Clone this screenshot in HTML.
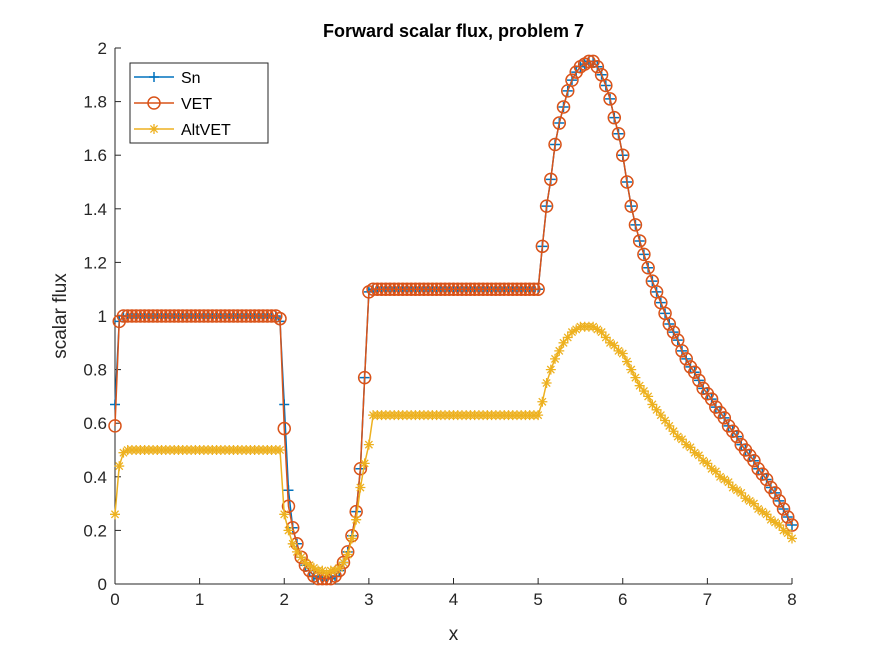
<!DOCTYPE html>
<html><head><meta charset="utf-8"><style>
body{margin:0;background:#fff;}
svg{display:block;font-family:"Liberation Sans",Arial,sans-serif;}
</style></head><body>
<svg id="chart" width="875" height="656"></svg>
<script>
const xStep = 0.05;
const vetVals = [
0.59,0.98,1.00,1.00,1.00,1.00,1.00,1.00,1.00,1.00,
1.00,1.00,1.00,1.00,1.00,1.00,1.00,1.00,1.00,1.00,
1.00,1.00,1.00,1.00,1.00,1.00,1.00,1.00,1.00,1.00,
1.00,1.00,1.00,1.00,1.00,1.00,1.00,1.00,1.00,0.99,
0.58,0.29,0.21,0.15,0.10,0.07,0.05,0.03,0.02,0.02,
0.02,0.02,0.03,0.05,0.08,0.12,0.18,0.27,0.43,0.77,
1.09,1.10,1.10,1.10,1.10,1.10,1.10,1.10,1.10,1.10,
1.10,1.10,1.10,1.10,1.10,1.10,1.10,1.10,1.10,1.10,
1.10,1.10,1.10,1.10,1.10,1.10,1.10,1.10,1.10,1.10,
1.10,1.10,1.10,1.10,1.10,1.10,1.10,1.10,1.10,1.10,
1.10,1.26,1.41,1.51,1.64,1.72,1.78,1.84,1.88,1.91,
1.93,1.94,1.95,1.95,1.93,1.90,1.86,1.81,1.74,1.68,
1.60,1.50,1.41,1.34,1.28,1.23,1.18,1.13,1.09,1.05,
1.01,0.97,0.94,0.91,0.87,0.84,0.81,0.79,0.76,0.73,
0.71,0.69,0.66,0.64,0.62,0.59,0.57,0.55,0.52,0.50,
0.48,0.46,0.43,0.41,0.39,0.36,0.34,0.31,0.28,0.25,
0.22];
const snVals = [
0.67,0.98,1.00,1.00,1.00,1.00,1.00,1.00,1.00,1.00,
1.00,1.00,1.00,1.00,1.00,1.00,1.00,1.00,1.00,1.00,
1.00,1.00,1.00,1.00,1.00,1.00,1.00,1.00,1.00,1.00,
1.00,1.00,1.00,1.00,1.00,1.00,1.00,1.00,1.00,0.98,
0.67,0.35,0.21,0.15,0.10,0.07,0.05,0.03,0.02,0.02,
0.02,0.02,0.03,0.05,0.08,0.12,0.18,0.27,0.43,0.77,
1.09,1.10,1.10,1.10,1.10,1.10,1.10,1.10,1.10,1.10,
1.10,1.10,1.10,1.10,1.10,1.10,1.10,1.10,1.10,1.10,
1.10,1.10,1.10,1.10,1.10,1.10,1.10,1.10,1.10,1.10,
1.10,1.10,1.10,1.10,1.10,1.10,1.10,1.10,1.10,1.10,
1.10,1.26,1.41,1.51,1.64,1.72,1.78,1.84,1.88,1.91,
1.93,1.94,1.95,1.95,1.93,1.90,1.86,1.81,1.74,1.68,
1.60,1.50,1.41,1.34,1.28,1.23,1.18,1.13,1.09,1.05,
1.01,0.97,0.94,0.91,0.87,0.84,0.81,0.79,0.76,0.73,
0.71,0.69,0.66,0.64,0.62,0.59,0.57,0.55,0.52,0.50,
0.48,0.46,0.43,0.41,0.39,0.36,0.34,0.31,0.28,0.25,
0.22];
const altVals = [
0.26,0.44,0.49,0.50,0.50,0.50,0.50,0.50,0.50,0.50,
0.50,0.50,0.50,0.50,0.50,0.50,0.50,0.50,0.50,0.50,
0.50,0.50,0.50,0.50,0.50,0.50,0.50,0.50,0.50,0.50,
0.50,0.50,0.50,0.50,0.50,0.50,0.50,0.50,0.50,0.50,
0.26,0.20,0.15,0.12,0.10,0.08,0.07,0.06,0.05,0.05,
0.04,0.05,0.05,0.06,0.08,0.11,0.17,0.24,0.36,0.45,
0.52,0.63,0.63,0.63,0.63,0.63,0.63,0.63,0.63,0.63,
0.63,0.63,0.63,0.63,0.63,0.63,0.63,0.63,0.63,0.63,
0.63,0.63,0.63,0.63,0.63,0.63,0.63,0.63,0.63,0.63,
0.63,0.63,0.63,0.63,0.63,0.63,0.63,0.63,0.63,0.63,
0.63,0.68,0.75,0.80,0.84,0.87,0.90,0.92,0.94,0.95,
0.96,0.96,0.96,0.96,0.95,0.94,0.92,0.90,0.89,0.87,
0.86,0.83,0.80,0.77,0.74,0.72,0.70,0.67,0.65,0.63,
0.61,0.59,0.57,0.55,0.54,0.52,0.51,0.49,0.48,0.46,
0.45,0.43,0.42,0.40,0.39,0.38,0.36,0.35,0.34,0.32,
0.31,0.30,0.28,0.27,0.26,0.24,0.23,0.22,0.20,0.19,
0.17];
const xTicks = [0,1,2,3,4,5,6,7,8];
const yTicks = [0,0.2,0.4,0.6,0.8,1,1.2,1.4,1.6,1.8,2];
const yTickLabels = ["0","0.2","0.4","0.6","0.8","1","1.2","1.4","1.6","1.8","2"];

const L=115,R=792,T=48,B=584;
const sx=v=>L+(v-0)/(8-0)*(R-L);
const sy=v=>B-(v-0)/(2-0)*(B-T);
const NS="http://www.w3.org/2000/svg";
const svg=document.getElementById('chart');
function mk(tag,attrs,parent){const e=document.createElementNS(NS,tag);for(const k in attrs)e.setAttribute(k,attrs[k]);(parent||svg).appendChild(e);return e;}

const bg=mk('rect',{x:L,y:T,width:R-L,height:B-T,fill:'#fff'});



const axes=mk('g',{stroke:'#262626','stroke-width':1,fill:'none'});


mk('line',{x1:L,y1:B,x2:R,y2:B},axes);
mk('line',{x1:L,y1:B,x2:L,y2:T},axes);

xTicks.forEach(t=>{
  const x=sx(t);
  mk('line',{x1:x,y1:B,x2:x,y2:B-6,stroke:'#262626'});
  const tx=mk('text',{x:x,y:B+21,'text-anchor':'middle','font-size':17,fill:'#262626'});
  tx.textContent=t;
  
  
});
yTicks.forEach((t,i)=>{
  const y=sy(t);
  mk('line',{x1:L,y1:y,x2:L+6,y2:y,stroke:'#262626'});
  const tx=mk('text',{x:L-8,y:y+6,'text-anchor':'end','font-size':17,fill:'#262626'});
  tx.textContent=yTickLabels[i];
  
  
});

const title=mk('text',{x:(L+R)/2,y:37,'text-anchor':'middle','font-size':18,'font-weight':'bold',fill:'#000'});
title.textContent='Forward scalar flux, problem 7';


const xl=mk('text',{x:(L+R)/2,y:640,'text-anchor':'middle','font-size':19,fill:'#262626'});
xl.textContent='x';


const yl=mk('text',{x:0,y:0,'text-anchor':'middle','font-size':19,fill:'#262626',transform:'translate(66,316) rotate(-90)'});
yl.textContent='scalar flux';



function marker(g,type,x,y,color){
  if(type==='plus'){
    mk('path',{d:`M${x-5} ${y}H${x+5}M${x} ${y-5}V${y+5}`,stroke:color,'stroke-width':1.5},g);
  }else if(type==='circle'){
    mk('circle',{cx:x,cy:y,r:6,fill:'none',stroke:color,'stroke-width':1.5},g);
  }else{
    mk('path',{d:`M${x-5} ${y}H${x+5}M${x} ${y-5}V${y+5}M${x-3.6} ${y-3.6}L${x+3.6} ${y+3.6}M${x-3.6} ${y+3.6}L${x+3.6} ${y-3.6}`,stroke:color,'stroke-width':1.3},g);
  }
}
function series(vals,color,type,name){
  const g=mk('g',{});
  
  
  const pts=vals.map((v,i)=>sx(i*xStep).toFixed(2)+','+sy(v).toFixed(2)).join(' ');
  mk('polyline',{points:pts,fill:'none',stroke:color,'stroke-width':1.5},g);
  vals.forEach((v,i)=>marker(g,type,sx(i*xStep),sy(v),color));
}
series(snVals,'#0072BD','plus','series-sn');
series(vetVals,'#D95319','circle','series-vet');
series(altVals,'#EDB120','star','series-altvet');

const lg=mk('g',{});


mk('rect',{x:130,y:63,width:138,height:80,fill:'#fff',stroke:'#262626','stroke-width':1},lg);
const entries=[['Sn','#0072BD','plus'],['VET','#D95319','circle'],['AltVET','#EDB120','star']];
entries.forEach((e,i)=>{
  const y=77+i*26;
  const eg=mk('g',{},lg);
  
  
  mk('line',{x1:134,y1:y,x2:174,y2:y,stroke:e[1],'stroke-width':1.5},eg);
  marker(eg,e[2],154,y,e[1]);
  const t=mk('text',{x:181,y:y+6,'font-size':16,fill:'#000'},eg);
  t.textContent=e[0];
});
</script>
</body></html>
